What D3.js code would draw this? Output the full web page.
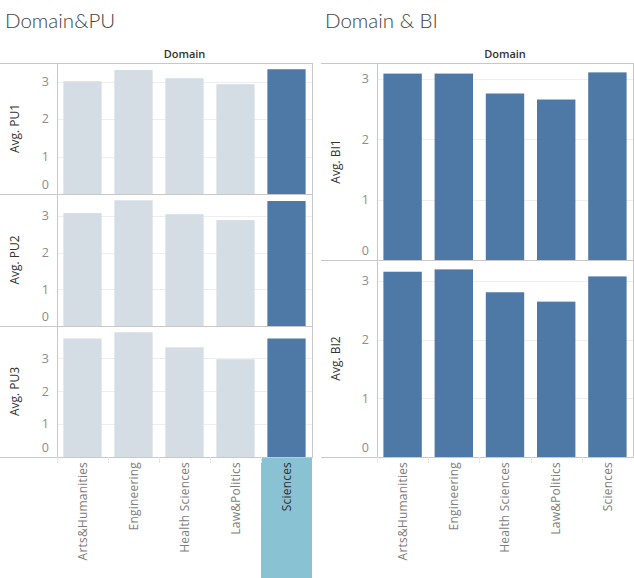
<!DOCTYPE html>
<html>
<head>
<meta charset="utf-8">
<script src="https://cdn.jsdelivr.net/npm/d3@7"></script>
<style>
  html, body { margin: 0; padding: 0; background: #fff; }
  svg { display: block; }
</style>
</head>
<body>
<svg id="chart" width="634" height="578"></svg>
<script>
// ---- data ----
const categories = ["Arts&Humanities", "Engineering", "Health Sciences", "Law&Politics", "Sciences"];
const pu1 = [3.01, 3.31, 3.09, 2.93, 3.33];
const pu2 = [3.08, 3.43, 3.05, 2.89, 3.41];
const pu3 = [3.60, 3.79, 3.33, 2.97, 3.60];
const bi1 = [3.09, 3.09, 2.76, 2.66, 3.11];
const bi2 = [3.16, 3.20, 2.81, 2.65, 3.08];
const yTicks = [0, 1, 2, 3];
const highlighted = "Sciences";

// ---- style ----
const FONT = "'Open Sans', 'DejaVu Sans', sans-serif";
const TITLE_FONT = "Lato, 'Open Sans', sans-serif";
const C_DARK = "#4e79a7", C_LIGHT = "#d4dce4", C_BORDER = "#c8c8c8",
      C_GRID = "#eeeeee", C_TICK = "#8c8c8c", C_LABEL = "#7d7d7d", C_TEXT = "#333333",
      C_HILITE = "#89c2d2";

const svg = d3.select("#chart");

function drawSection(cfg) {
  const g = svg.append("g");
  const x = d3.scaleBand().domain(categories).range([cfg.x0, cfg.x1])
    .paddingInner(0.25).paddingOuter(0.125);

  // title
  g.append("text").attr("x", cfg.titleX).attr("y", 28)
    .attr("font-family", TITLE_FONT).attr("font-size", 20.5).attr("font-weight", 300)
    .attr("fill", "#444").text(cfg.title);
  // header
  g.append("text").attr("x", (cfg.x0 + cfg.x1) / 2).attr("y", 58)
    .attr("text-anchor", "middle").attr("font-family", FONT)
    .attr("font-size", 11).attr("font-weight", 600).attr("fill", C_TEXT).text("Domain");

  // highlight box in x header
  if (cfg.highlight) {
    const step = x.step();
    const hx = x(highlighted) - x.paddingInner() * step / 2;
    g.append("rect").attr("x", hx).attr("y", cfg.rows[cfg.rows.length - 1].bottom)
      .attr("width", step).attr("height", 578 - cfg.rows[cfg.rows.length - 1].bottom)
      .attr("fill", C_HILITE);
  }

  cfg.rows.forEach((row, i) => {
    const vals = row.values;
    const y = d3.scaleLinear().domain([0, d3.max(vals) * 1.05]).range([row.bottom, row.top]);
    // grid
    g.selectAll(null).data(yTicks.filter(t => t > 0)).enter().append("line")
      .attr("x1", cfg.x0).attr("x2", cfg.x1)
      .attr("y1", d => Math.round(y(d)) + 0.5).attr("y2", d => Math.round(y(d)) + 0.5)
      .attr("stroke", C_GRID).attr("stroke-width", 1);
    // bars
    g.selectAll(null).data(categories).enter().append("rect")
      .attr("x", d => x(d)).attr("width", x.bandwidth())
      .attr("y", (d, j) => y(vals[j])).attr("height", (d, j) => y(0) - y(vals[j]))
      .attr("fill", d => (cfg.highlight && d !== highlighted) ? C_LIGHT : C_DARK);
    // tick labels
    g.selectAll(null).data(yTicks).enter().append("text")
      .attr("x", cfg.x0 - 8)
      .attr("y", d => Math.min(y(d), row.bottom - 9))
      .attr("dy", "0.35em").attr("text-anchor", "end")
      .attr("font-family", FONT).attr("font-size", 12.5).attr("fill", C_TICK)
      .text(d => d);
    // axis title
    g.append("text")
      .attr("transform", `translate(${cfg.axisTitleX},${(row.top + row.bottom) / 2}) rotate(-90)`)
      .attr("text-anchor", "middle").attr("font-family", FONT)
      .attr("font-size", 12).attr("fill", C_TEXT).text(row.title);
    // top border line of row
    g.append("line").attr("x1", cfg.lineX0).attr("x2", cfg.x1 + 1)
      .attr("y1", Math.round(row.top) + 0.5).attr("y2", Math.round(row.top) + 0.5)
      .attr("stroke", C_BORDER);
  });

  const last = cfg.rows[cfg.rows.length - 1].bottom;
  const first = cfg.rows[0].top;
  // bottom line
  g.append("line").attr("x1", cfg.lineX0).attr("x2", cfg.x1 + 1)
    .attr("y1", Math.round(last) + 0.5).attr("y2", Math.round(last) + 0.5)
    .attr("stroke", C_BORDER);
  // left and right verticals
  [cfg.x0, cfg.x1].forEach(xx => {
    g.append("line").attr("x1", Math.round(xx) + 0.5).attr("x2", Math.round(xx) + 0.5)
      .attr("y1", first).attr("y2", last).attr("stroke", C_BORDER);
  });
  // header separators
  const step = x.step();
  g.selectAll(null).data(categories).enter().append("line")
    .attr("x1", d => Math.round(x(d) - x.paddingInner() * step / 2) + 0.5)
    .attr("x2", d => Math.round(x(d) - x.paddingInner() * step / 2) + 0.5)
    .attr("y1", last).attr("y2", last + 6).attr("stroke", "#e6e6e6");

  // x labels
  g.selectAll(null).data(categories).enter().append("text")
    .attr("transform", d => `translate(${x(d) + x.bandwidth() / 2},${last + 5}) rotate(-90)`)
    .attr("text-anchor", "end").attr("dy", "0.35em")
    .attr("font-family", FONT).attr("font-size", 12).attr("letter-spacing", 0.2)
    .attr("fill", d => (cfg.highlight && d === highlighted) ? C_TEXT : C_LABEL)
    .text(d => d);
}

drawSection({
  title: "Domain&PU", titleX: 5, x0: 57, x1: 312, lineX0: 0, axisTitleX: 19, highlight: true,
  rows: [
    { title: "Avg. PU1", values: pu1, top: 63, bottom: 194 },
    { title: "Avg. PU2", values: pu2, top: 194, bottom: 326 },
    { title: "Avg. PU3", values: pu3, top: 326, bottom: 457 }
  ]
});

drawSection({
  title: "Domain & BI", titleX: 325, x0: 377, x1: 633, lineX0: 321, axisTitleX: 340, highlight: false,
  rows: [
    { title: "Avg. BI1", values: bi1, top: 63, bottom: 260 },
    { title: "Avg. BI2", values: bi2, top: 260, bottom: 457 }
  ]
});
</script>
</body>
</html>
